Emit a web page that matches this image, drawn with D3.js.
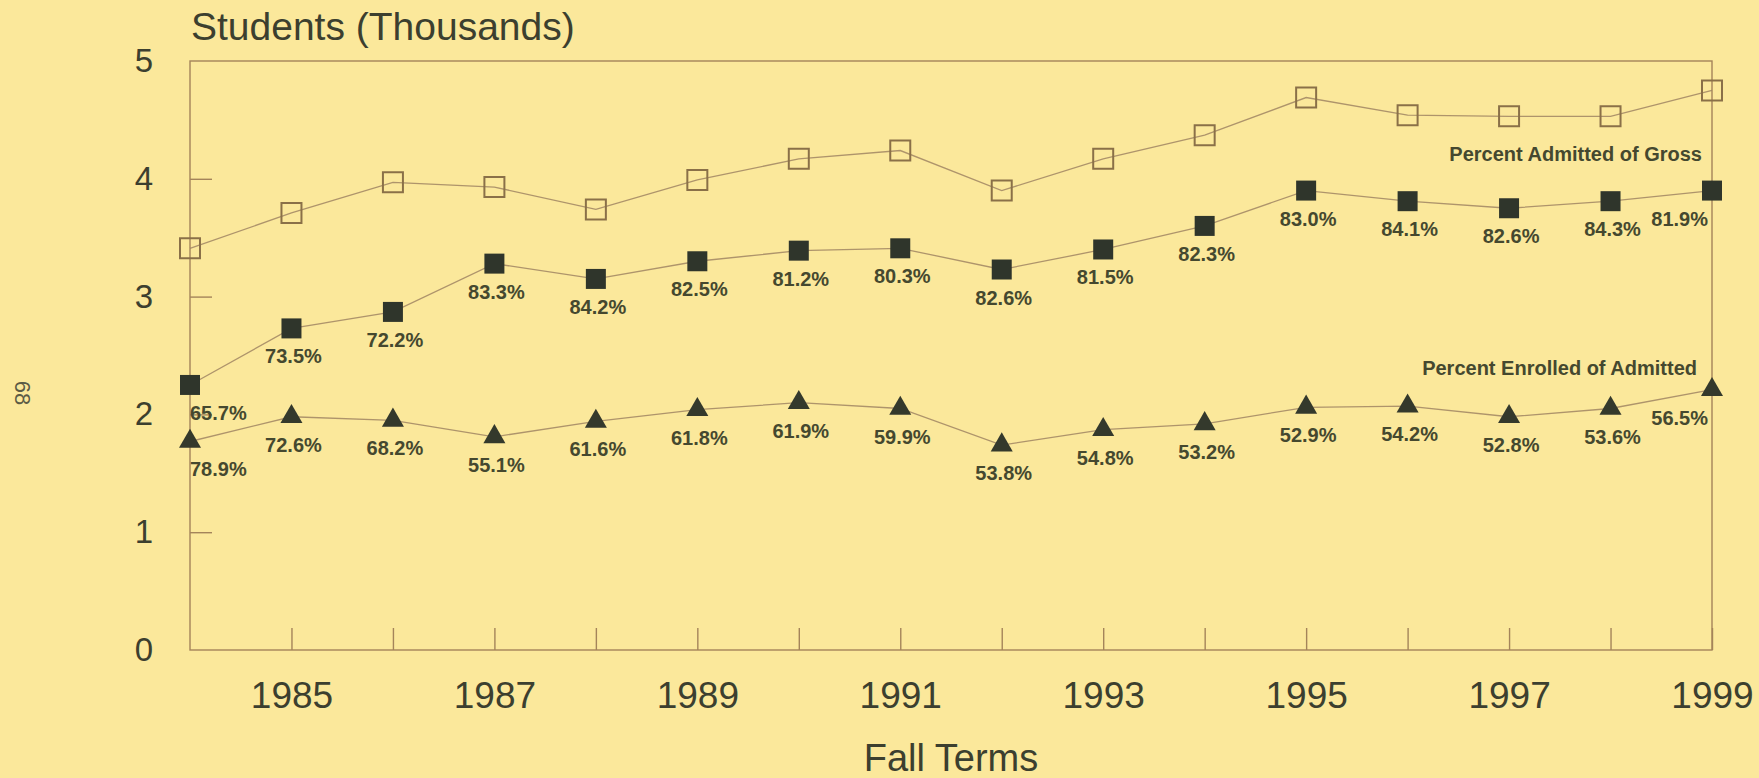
<!DOCTYPE html>
<html>
<head>
<meta charset="utf-8">
<script src="https://cdn.jsdelivr.net/npm/d3@7"></script>
<style>
  html, body { margin: 0; padding: 0; background: #fbe89b; }
  svg { display: block; font-family: Arial, "Liberation Sans", sans-serif; }
  .axis text { fill: #3c3f2f; }
  .axis line { stroke: #a4845a; stroke-width: 1.4; }
  .value { font-weight: bold; font-size: 20px; fill: #45482f; }
</style>
</head>
<body>
<svg id="chart" width="1759" height="778"></svg>
<script>
// fall terms and series (thousands of students)
const years = [1984, 1985, 1986, 1987, 1988, 1989, 1990, 1991, 1992, 1993, 1994, 1995, 1996, 1997, 1998, 1999];
const gross = [3.41, 3.71, 3.97, 3.93, 3.74, 3.99, 4.17, 4.24, 3.90, 4.17, 4.37, 4.69, 4.54, 4.53, 4.53, 4.75];
const admitted = [2.25, 2.73, 2.87, 3.28, 3.15, 3.30, 3.39, 3.41, 3.23, 3.40, 3.60, 3.90, 3.81, 3.75, 3.81, 3.90];
const enrolled = [1.77, 1.98, 1.95, 1.81, 1.94, 2.04, 2.10, 2.05, 1.74, 1.87, 1.92, 2.06, 2.07, 1.98, 2.05, 2.21];
const admittedPct = ['65.7%', '73.5%', '72.2%', '83.3%', '84.2%', '82.5%', '81.2%', '80.3%', '82.6%', '81.5%', '82.3%', '83.0%', '84.1%', '82.6%', '84.3%', '81.9%'];
const enrolledPct = ['78.9%', '72.6%', '68.2%', '55.1%', '61.6%', '61.8%', '61.9%', '59.9%', '53.8%', '54.8%', '53.2%', '52.9%', '54.2%', '52.8%', '53.6%', '56.5%'];
const yTicks = [0, 1, 2, 3, 4, 5];
const xTickLabels = [1985, 1987, 1989, 1991, 1993, 1995, 1997, 1999];

const LINE = '#a4845a';
const MARK = '#2f352b';

const svg = d3.select('#chart');
const x = d3.scaleLinear().domain([1984, 1999]).range([190, 1712]);
const y = d3.scaleLinear().domain([0, 5]).range([650, 61]);

// page number on the margin
svg.append('text')
  .attr('transform', 'translate(23,393) rotate(90)')
  .attr('text-anchor', 'middle')
  .attr('dy', '0.35em')
  .attr('font-size', 22)
  .attr('fill', '#5b5b45')
  .text('68');

// frame
svg.append('rect')
  .attr('x', x.range()[0]).attr('y', y.range()[1])
  .attr('width', x.range()[1] - x.range()[0])
  .attr('height', y.range()[0] - y.range()[1])
  .attr('fill', 'none').attr('stroke', LINE).attr('stroke-width', 1.4);

const xAxis = svg.append('g')
  .attr('class', 'axis')
  .attr('transform', `translate(0,${y(0)})`)
  .call(d3.axisBottom(x)
    .tickValues(years.slice(1))
    .tickSize(-22)
    .tickPadding(32)
    .tickFormat((d) => xTickLabels.includes(d) ? d : ''));
xAxis.select('.domain').remove();
xAxis.selectAll('text').attr('font-size', 37);

const yAxis = svg.append('g')
  .attr('class', 'axis')
  .attr('transform', `translate(${x(1984)},0)`)
  .call(d3.axisLeft(y).tickValues(yTicks).tickSize(-22).tickPadding(37).tickFormat(d3.format('d')));
yAxis.select('.domain').remove();
yAxis.selectAll('text').attr('font-size', 33);
yAxis.selectAll('.tick').filter((d) => d === 0 || d === 5).select('line').remove();

svg.append('text')
  .attr('x', 191).attr('y', 40)
  .attr('font-size', 39)
  .attr('fill', '#3c3f2f')
  .text('Students (Thousands)');

svg.append('text')
  .attr('x', (x.range()[0] + x.range()[1]) / 2).attr('y', 771)
  .attr('text-anchor', 'middle')
  .attr('font-size', 38)
  .attr('fill', '#3c3f2f')
  .text('Fall Terms');

const line = d3.line().x((d, i) => x(years[i])).y((d) => y(d));

const drawSeries = (values, symbolType, size, style) => {
  svg.append('path')
    .datum(values)
    .attr('d', line)
    .attr('fill', 'none')
    .attr('stroke', '#a08563')
    .attr('stroke-width', 1.3)
    .attr('stroke-opacity', 0.85);

  svg.append('g')
    .selectAll('path')
    .data(values)
    .join('path')
    .attr('transform', (d, i) => `translate(${x(years[i])},${y(d)})`)
    .attr('d', d3.symbol().type(symbolType).size(size))
    .attr('fill', style.fill)
    .attr('stroke', style.stroke)
    .attr('stroke-width', style.strokeWidth);
};

const drawValues = (values, labels) => {
  const last = values.length - 1;
  svg.append('g')
    .selectAll('text')
    .data(values)
    .join('text')
    .attr('class', 'value')
    .attr('x', (d, i) => x(years[i]) + (i === 0 ? 0 : i === last ? -4 : 2))
    .attr('y', (d) => y(d) + 35)
    .attr('text-anchor', (d, i) => i === 0 ? 'start' : i === last ? 'end' : 'middle')
    .text((d, i) => labels[i]);
};

drawSeries(gross, d3.symbolSquare, 400, {fill: 'none', stroke: '#8a7048', strokeWidth: 2});
drawSeries(admitted, d3.symbolSquare, 400, {fill: MARK, stroke: 'none', strokeWidth: 0});
drawSeries(enrolled, d3.symbolTriangle, 210, {fill: '#34392c', stroke: 'none', strokeWidth: 0});

drawValues(admitted, admittedPct);
drawValues(enrolled, enrolledPct);

svg.append('text')
  .attr('class', 'value')
  .attr('x', x(1999) - 10).attr('y', 161)
  .attr('text-anchor', 'end')
  .attr('font-size', 19.5)
  .text('Percent Admitted of Gross');

svg.append('text')
  .attr('class', 'value')
  .attr('x', x(1999) - 15).attr('y', 375)
  .attr('text-anchor', 'end')
  .attr('font-size', 19.5)
  .text('Percent Enrolled of Admitted');
</script>
</body>
</html>
